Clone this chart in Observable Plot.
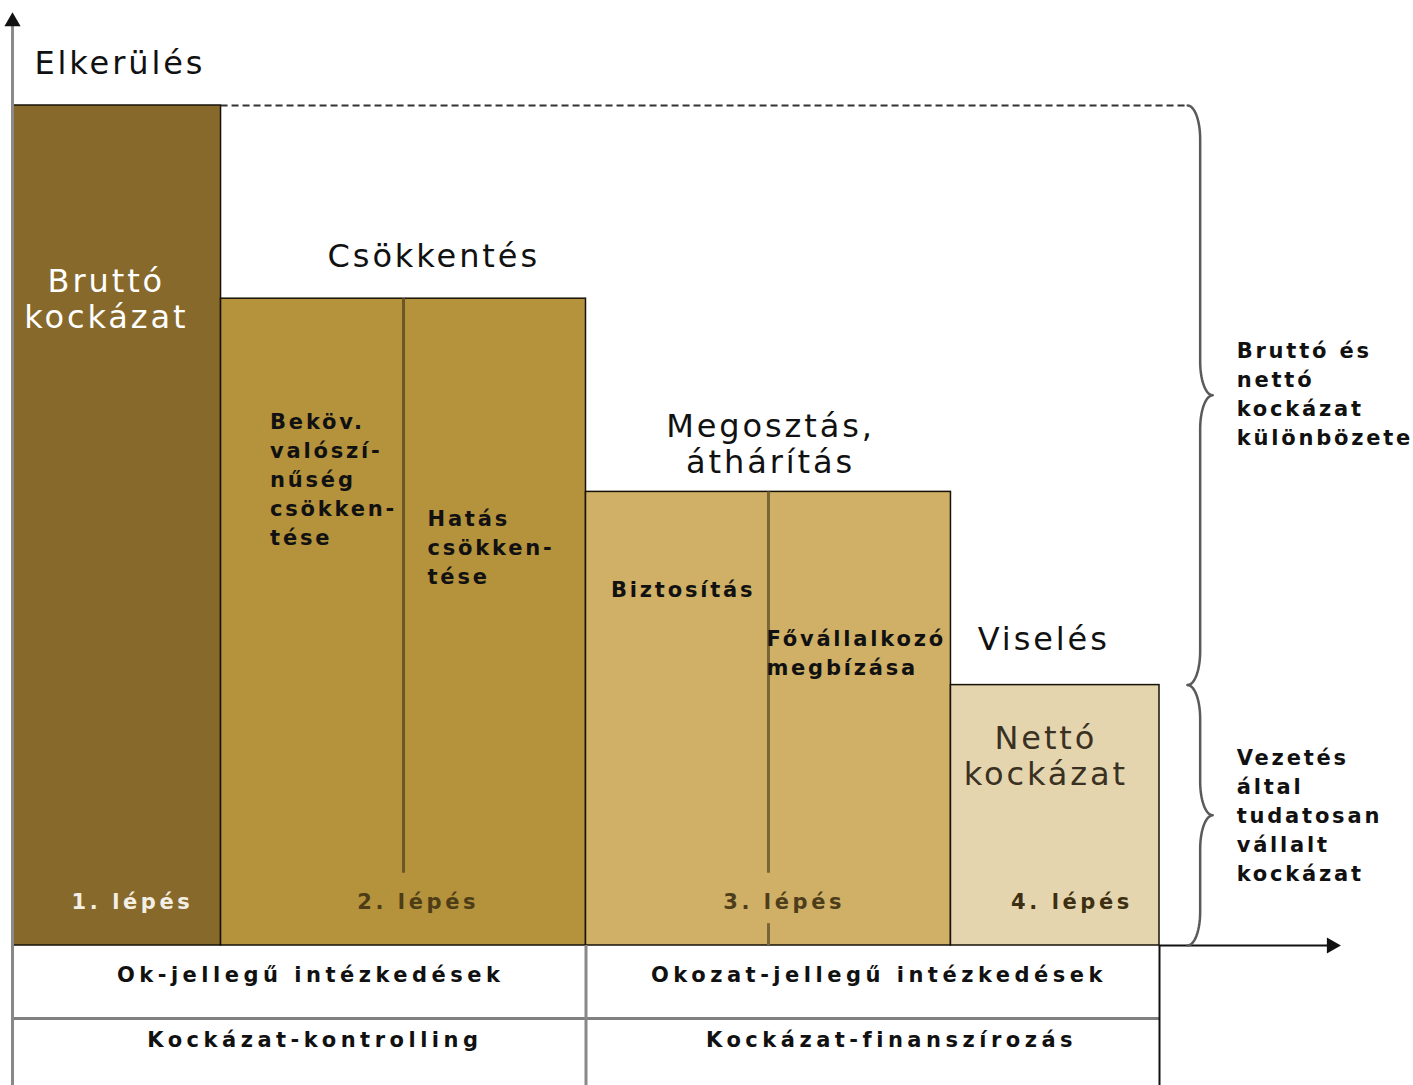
<!DOCTYPE html>
<html><head><meta charset="utf-8">
<script src="https://cdn.jsdelivr.net/npm/d3@7"></script>
<script src="https://cdn.jsdelivr.net/npm/@observablehq/plot@0.6"></script>
<style>
body{margin:0;background:#fff;}
#chart svg{display:block;}
.big text{letter-spacing:2.9px;}
.small text{letter-spacing:2.8px;}
.steplab text{letter-spacing:3.6px;}
.tbl text{letter-spacing:4.5px;}
</style></head><body><div id="chart"></div>
<script>
// ---- data ----
const steps = ["1. lépés", "2. lépés", "3. lépés", "4. lépés"];
const stepFrom = [0, 20, 55, 90];
const stepTo = [20, 55, 90, 110];
const riskLevel = [100, 77, 54, 31];
const actions = ["Elkerülés", "Csökkentés", "Megosztás,\náthárítás", "Viselés"];
const subMeasures = ["Beköv.\nvalószí-\nnűség\ncsökken-\ntése", "Hatás\ncsökken-\ntése", "Biztosítás", "Fővállalkozó\nmegbízása"];
const riskNames = ["Bruttó\nkockázat", "Nettó\nkockázat"];
const measureTypes = ["Ok-jellegű intézkedések", "Okozat-jellegű intézkedések"];
const disciplines = ["Kockázat-kontrolling", "Kockázat-finanszírozás"];
const braceNotes = ["Bruttó és\nnettó\nkockázat\nkülönbözete", "Vezetés\náltal\ntudatosan\nvállalt\nkockázat"];

// ---- styles ----
const stepColors = ["#86692b", "#b5923c", "#cfb066", "#e5d5ae"];
const stepLabelColors = ["#f4efe4", "#4d3d17", "#4d3d1a", "#3d3012"];

// ---- layout (chart units) ----
const actionPos = [{x: 2.1, y: 105.1}, {x: 40.4, y: 82.1}, {x: 72.7, y: 59.8}, {x: 98.9, y: 36.5}];
const subPos = [{x: 24.7, y: 55.7}, {x: 39.8, y: 47.6}, {x: 57.4, y: 42.6}, {x: 72.3, y: 35.0}];
const riskNamePos = [{x: 9.0, y: 77.0}, {x: 99.1, y: 22.6}];
const stepLabPos = [11.5, 38.9, 74.0, 101.6];
const stepLabY = 5.1;
const rowY = [-3.6, -11.3];
const rowSep = -8.7;
const tableBottom = -17;
const measureX = [28.6, 83.1];
const disciplineX = [29.0, 84.3];
const notePos = [{x: 117.4, y: 65.9}, {x: 117.4, y: 15.65}];
const dividerGap = [2.6, 8.6];

const bars = steps.map((s, i) => ({step: s, x1: stepFrom[i], x2: stepTo[i], top: riskLevel[i], fill: stepColors[i]}));

// decorative brace shape
function bracePoints(id, yTop, yBot) {
  const pts = [];
  const xe = 112.7, xl = 113.9, xt = 115.1, r = 4, n = 14;
  const ym = (yTop + yBot) / 2;
  for (let i = 0; i <= n; i++) { const t = i / n * Math.PI / 2; pts.push({id, x: xe + (xl - xe) * Math.sin(t), y: yTop - r + r * Math.cos(t)}); }
  for (let i = 0; i <= n; i++) { const t = i / n * Math.PI / 2; pts.push({id, x: xt - (xt - xl) * Math.cos(t), y: ym + r - r * Math.sin(t)}); }
  for (let i = 0; i <= n; i++) { const t = i / n * Math.PI / 2; pts.push({id, x: xt - (xt - xl) * Math.sin(t), y: ym - r + r * Math.cos(t)}); }
  for (let i = 0; i <= n; i++) { const t = i / n * Math.PI / 2; pts.push({id, x: xe + (xl - xe) * Math.cos(t), y: yBot + r - r * Math.sin(t)}); }
  return pts;
}
const brace = [...bracePoints("a", riskLevel[0], riskLevel[3]), ...bracePoints("b", riskLevel[3], 0)];

const dividers = [
  {x: (stepFrom[1] + stepTo[1]) / 2, y1: dividerGap[1], y2: riskLevel[1], c: "#6b5628"},
  {x: (stepFrom[2] + stepTo[2]) / 2, y1: dividerGap[1], y2: riskLevel[2], c: "#7a6538"},
  {x: (stepFrom[2] + stepTo[2]) / 2, y1: 0, y2: dividerGap[0], c: "#7a6538"}
];

const big = {fontSize: 32, lineHeight: 1.12, className: "big"};
const small = {fontSize: 21, fontWeight: "bold", lineHeight: 1.39, className: "small", fill: "#111", textAnchor: "start"};

const chart = Plot.plot({
  width: 1413, height: 1085,
  marginLeft: 12, marginRight: 254, marginTop: 105, marginBottom: 140,
  x: {domain: [0, 110], axis: null},
  y: {domain: [0, 100], axis: null},
  color: {type: "identity"},
  style: {fontFamily: "'DejaVu Sans', Verdana, sans-serif", background: "#fff", overflow: "visible"},
  marks: [
    Plot.rect(bars, {x1: "x1", x2: "x2", y1: 0, y2: "top", fill: "fill", stroke: "#161208", strokeWidth: 1.5}),
    Plot.ruleX(dividers, {x: "x", y1: "y1", y2: "y2", stroke: "c", strokeWidth: 3}),
    // vertical axis
    Plot.ruleX([0], {y1: 0, y2: 110, stroke: "#8a8a8a", strokeWidth: 3}),
    Plot.dot([[0, 110]], {x: d => d[0], y: d => d[1], symbol: "triangle", r: 6, fill: "#111", stroke: "none"}),
    // horizontal axis
    Plot.ruleY([0], {x1: stepTo[3], x2: 126.3, stroke: "#111", strokeWidth: 2}),
    Plot.dot([[126.5, 0]], {x: d => d[0], y: d => d[1], symbol: "triangle", r: 6, rotate: 90, fill: "#111", stroke: "none"}),
    // dashed gross level
    Plot.ruleY([riskLevel[0]], {x1: stepTo[0], x2: 112.7, stroke: "#333", strokeWidth: 2, strokeDasharray: "7,4"}),
    // brace
    Plot.line(brace, {x: "x", y: "y", z: "id", stroke: "#5a5a5a", strokeWidth: 2.5, curve: "linear"}),
    // table lines
    Plot.ruleY([rowSep], {x1: 0, x2: stepTo[3], stroke: "#808080", strokeWidth: 3}),
    Plot.ruleX([0, stepTo[1]], {y1: 0, y2: tableBottom, stroke: "#888", strokeWidth: 3}),
    Plot.ruleX([stepTo[3]], {y1: 0, y2: tableBottom, stroke: "#111", strokeWidth: 2}),
    // action labels
    Plot.text([actions[0]], {x: actionPos[0].x, y: actionPos[0].y, text: d => d, textAnchor: "start", fill: "#111", ...big}),
    Plot.text(actions.slice(1), {x: (d, i) => actionPos[i + 1].x, y: (d, i) => actionPos[i + 1].y, text: d => d, fill: "#111", ...big}),
    // risk names
    Plot.text(riskNames, {x: (d, i) => riskNamePos[i].x, y: (d, i) => riskNamePos[i].y, text: d => d, fill: (d, i) => ["#ffffff", "#3a3122"][i], ...big, lineHeight: 1.13}),
    // sub measures
    Plot.text(subMeasures, {x: (d, i) => subPos[i].x, y: (d, i) => subPos[i].y, text: d => d, ...small}),
    // step labels
    Plot.text(steps, {x: (d, i) => stepLabPos[i], y: stepLabY, text: d => d, fill: (d, i) => stepLabelColors[i], fontSize: 21, fontWeight: "bold", className: "steplab"}),
    // table text
    Plot.text(measureTypes, {x: (d, i) => measureX[i], y: rowY[0], text: d => d, fill: "#111", fontSize: 21, fontWeight: "bold", className: "tbl"}),
    Plot.text(disciplines, {x: (d, i) => disciplineX[i], y: rowY[1], text: d => d, fill: "#111", fontSize: 21, fontWeight: "bold", className: "tbl"}),
    // brace notes
    Plot.text(braceNotes, {x: (d, i) => notePos[i].x, y: (d, i) => notePos[i].y, text: d => d, ...small, lineHeight: 1.38})
  ]
});
document.getElementById("chart").appendChild(chart);
</script></body></html>
